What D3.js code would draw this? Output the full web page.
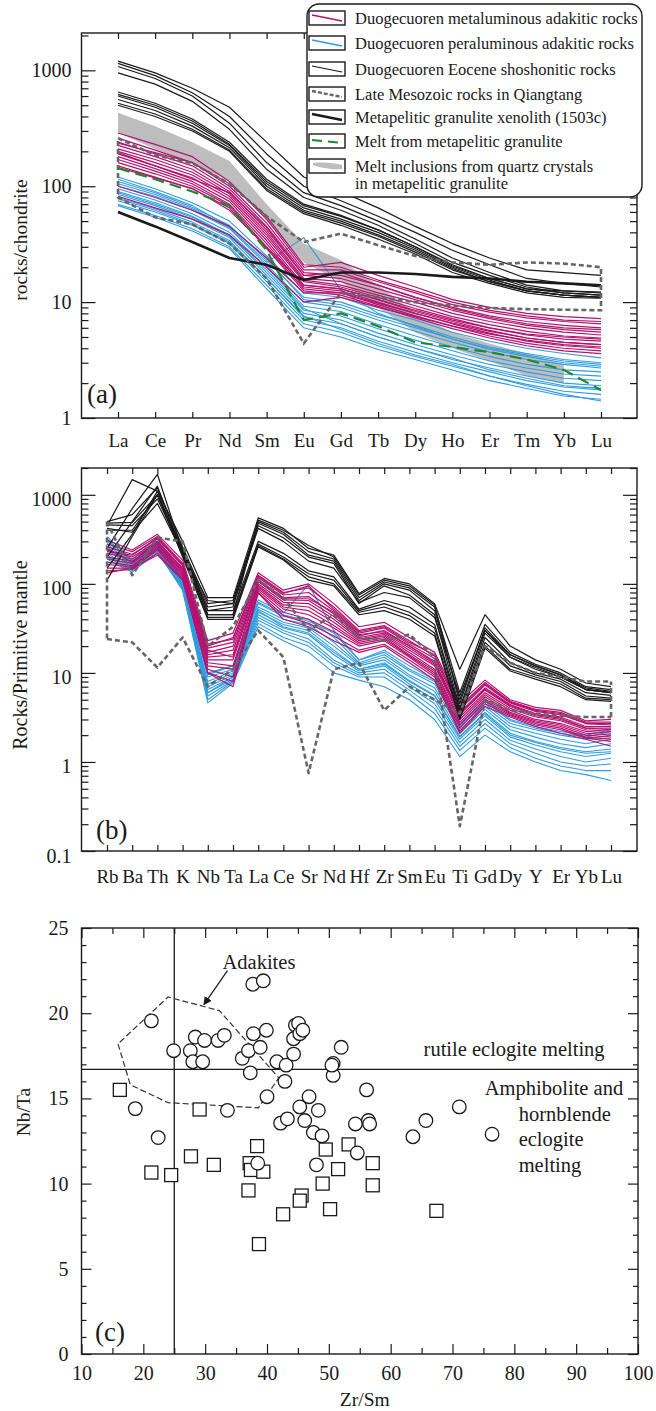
<!DOCTYPE html>
<html>
<head>
<meta charset="utf-8">
<script src="https://cdn.jsdelivr.net/npm/d3@7"></script>
<style>
  body { margin: 0; background: #fff; }
  svg { display: block; }
  text { font-family: "Liberation Serif", "DejaVu Serif", serif; }
</style>
</head>
<body>
<div id="main-chart"></div>
<script>
const width = 656;
const height = 1411;
const serif = "Liberation Serif, DejaVu Serif, serif";

// ---------- panel (a): chondrite-normalised REE ----------
const reeElements = ["La", "Ce", "Pr", "Nd", "Sm", "Eu", "Gd", "Tb", "Dy", "Ho", "Er", "Tm", "Yb", "Lu"];

const reeMetaluminous = [
  [288, 230, 180, 110, 52, 20, 22, 17, 13.5, 10.5, 9, 8, 7.5, 7.2],
  [260, 205, 160, 100, 48, 19, 19, 15, 12, 9.5, 8.2, 7.3, 6.8, 6.5],
  [240, 190, 150, 95, 45, 18, 17, 14, 11, 9, 7.6, 6.8, 6.3, 6],
  [235, 195, 160, 105, 55, 21, 20, 15.5, 12.5, 10, 8.5, 7.6, 7, 6.8],
  [225, 180, 140, 90, 42, 17, 16, 13, 10.5, 8.5, 7.2, 6.3, 5.8, 5.5],
  [210, 170, 132, 86, 40, 16, 15, 12, 10, 8, 6.8, 6, 5.5, 5.2],
  [200, 160, 125, 82, 38, 15.5, 14, 11.5, 9.3, 7.5, 6.4, 5.6, 5.1, 4.9],
  [195, 150, 115, 88, 44, 17, 18, 14, 11, 8.8, 7.4, 6.5, 6, 5.8],
  [190, 150, 118, 78, 36, 15, 13.5, 11, 8.8, 7.2, 6, 5.2, 4.8, 4.6],
  [180, 142, 110, 74, 34, 14, 13, 10.5, 8.3, 6.8, 5.7, 4.9, 4.5, 4.3],
  [170, 135, 105, 70, 32, 13.5, 12.5, 10, 8, 6.5, 5.4, 4.6, 4.2, 4],
  [160, 128, 100, 68, 30, 13, 12, 9.5, 7.6, 6.2, 5.1, 4.4, 4, 3.8],
  [150, 120, 95, 65, 29, 12.5, 11.5, 9.2, 7.3, 5.9, 4.9, 4.2, 3.8, 3.6],
  [145, 118, 96, 62, 30, 14, 13, 10.5, 8.5, 7, 6, 5.3, 5, 4.8],
  [100, 80, 62, 45, 24, 12, 12, 9.8, 8, 6.6, 5.6, 4.9, 4.5, 4.3],
  [82, 65, 52, 38, 20, 10, 11, 9, 7.5, 6.2, 5.3, 4.7, 4.3, 4.1],
];

const reePeraluminous = [
  [120, 95, 72, 50, 25, 12, 11, 8.5, 7, 5.5, 4.6, 4, 3.6, 3.3],
  [115, 90, 68, 45, 24, 10.5, 9.5, 7.4, 6, 4.8, 4, 3.5, 3.1, 2.9],
  [110, 88, 66, 46, 23, 11, 10, 7.8, 6.3, 5, 4.1, 3.6, 3.2, 3],
  [105, 85, 64, 44, 22, 36, 12.7, 8, 6.2, 4.8, 3.9, 3.4, 3, 2.8],
  [100, 82, 62, 43, 21, 10, 9, 7, 5.6, 4.5, 3.7, 3.2, 2.9, 2.7],
  [95, 76, 58, 40, 20, 9.2, 8.3, 6.4, 5.1, 4.1, 3.4, 2.9, 2.6, 2.5],
  [90, 72, 55, 38, 18, 8.5, 7.6, 5.9, 4.7, 3.8, 3.1, 2.7, 2.4, 2.3],
  [88, 70, 54, 37, 19, 8.8, 6.5, 5, 4, 3.3, 2.6, 2.2, 1.9, 1.8],
  [85, 68, 52, 36, 17, 8, 7, 5.4, 4.3, 3.5, 2.9, 2.5, 2.2, 2.1],
  [80, 64, 49, 34, 16, 7.4, 6.5, 5, 4, 3.2, 2.7, 2.3, 2, 1.9],
  [78, 62, 47, 33, 16, 7.6, 5.8, 4.4, 3.5, 2.9, 2.3, 1.9, 1.6, 1.4],
  [75, 60, 46, 32, 15, 7, 6, 4.6, 3.7, 3, 2.5, 2.1, 1.85, 1.75],
  [70, 56, 43, 30, 14, 6.5, 5.5, 4.2, 3.4, 2.8, 2.3, 1.95, 1.7, 1.6],
  [68, 54, 41, 29, 13, 6, 5, 3.9, 3.2, 2.6, 2.1, 1.8, 1.55, 1.45],
];

const reeShoshonitic = [
  [1200, 950, 700, 480, 240, 120, 90, 65, 45, 32, 24, 19, 18, 17],
  [1150, 900, 640, 400, 190, 100, 75, 55, 40, 28, 21, 16, 14.5, 13.5],
  [1080, 850, 600, 350, 160, 88, 68, 50, 35, 24, 18, 14, 12.5, 12],
  [950, 760, 540, 310, 140, 80, 62, 46, 32, 22, 17, 13.5, 12, 11.5],
  [650, 520, 380, 240, 115, 70, 56, 42, 30, 21, 16, 13, 12, 11.5],
  [620, 500, 365, 230, 110, 68, 55, 42, 30, 20.5, 16, 13, 12.5, 12.2],
  [600, 480, 350, 225, 105, 65, 52, 40, 29, 20, 15.5, 12.5, 11.5, 11],
  [560, 450, 330, 215, 100, 62, 50, 38, 28, 19.5, 15, 12.5, 11.5, 11],
  [520, 420, 310, 205, 95, 60, 48, 37, 27, 19, 15, 12.5, 11.5, 11],
  [500, 400, 300, 200, 92, 58, 46, 35, 26, 18, 14.5, 12, 11, 10.8],
];

const reeXenolith = [60, 45, 33, 24, 21, 15.5, 18, 18, 17.5, 16.5, 16, 15, 14.5, 14];
const reeMelt = [143, 115, 90, 68, 28, 7, 8, 6.2, 4.5, 4.1, 3.7, 3.2, 2.6, 1.74];
const reeMesozoicUpper = [260, 185, 158, 105, 55, 33, 39, 31, 25, 22, 21, 22, 21.5, 20];
const reeMesozoicLower = [80, 54, 47, 32, 16, 4.4, 12, 11, 10, 9.3, 8.9, 8.7, 8.6, 8.5];
// melt inclusions band, La..Yb
const reeInclusionUpper = [430, 330, 240, 165, 70, 32, 23, 14, 8, 5.5, 4.4, 3.6, 2.9];
const reeInclusionLower = [290, 210, 155, 112, 50, 22, 15, 9, 5.5, 4, 3.1, 2.3, 2];

// ---------- panel (b): primitive-mantle normalised spider ----------
const pmElements = ["Rb", "Ba", "Th", "K", "Nb", "Ta", "La", "Ce", "Sr", "Nd", "Hf", "Zr", "Sm", "Eu", "Ti", "Gd", "Dy", "Y", "Er", "Yb", "Lu"];

const pmMetaluminous = [
  [310, 240, 360, 185, 23, 28, 133, 85, 100, 60, 33, 37, 25, 17, 4.6, 8.3, 5, 4.1, 3.8, 2.9, 3],
  [280, 230, 340, 170, 21, 24, 125, 80, 90, 55, 30, 34, 23, 15.5, 4.2, 7.8, 4.8, 3.9, 3.6, 2.8, 2.8],
  [230, 210, 330, 165, 20, 25, 122, 78, 95, 52, 29, 33, 22, 16, 4, 7.5, 4.7, 3.8, 3.5, 2.7, 2.7],
  [260, 215, 320, 160, 19, 22, 118, 75, 80, 50, 28, 32, 21, 14.5, 3.9, 7.3, 4.6, 3.7, 3.4, 2.7, 2.6],
  [240, 200, 300, 150, 17, 20, 112, 70, 72, 46, 26, 30, 20, 13.5, 3.6, 6.8, 4.4, 3.5, 3.2, 2.5, 2.5],
  [250, 175, 300, 150, 18, 15, 108, 68, 68, 48, 27, 29, 20, 13, 3.5, 6.6, 4.3, 3.4, 3.1, 2.4, 2.4],
  [220, 190, 290, 145, 16, 18, 106, 66, 65, 43, 25, 28, 19, 12.5, 3.4, 6.4, 4.2, 3.3, 3, 2.4, 2.3],
  [200, 180, 280, 140, 15, 16, 100, 62, 60, 40, 24, 27, 18, 12, 3.2, 6, 4, 3.2, 2.9, 2.3, 2.2],
  [190, 170, 270, 135, 14, 14, 96, 58, 55, 37, 23, 26, 17, 11, 3, 5.7, 3.8, 3, 2.7, 2.2, 2.1],
  [175, 160, 260, 130, 13, 12, 92, 55, 50, 34, 22, 25, 16, 10.5, 2.8, 5.4, 3.6, 2.9, 2.6, 2.1, 2],
  [165, 155, 250, 125, 12, 11, 88, 52, 45, 32, 21, 24, 15.5, 10, 2.6, 5.1, 3.5, 2.8, 2.5, 2, 1.9],
  [150, 150, 240, 120, 11, 9, 84, 48, 40, 29, 20, 23, 15, 9.5, 2.4, 4.8, 3.4, 2.7, 2.4, 1.9, 1.8],
  [140, 145, 220, 115, 10, 8, 80, 44, 36, 26, 18, 21, 14, 9, 2.2, 4.5, 3.3, 2.6, 2.3, 1.85, 1.7],
  [133, 150, 210, 110, 10, 7, 79, 40, 33, 23, 17, 20, 13, 8.3, 2.1, 4.2, 3.2, 2.5, 2.1, 1.8, 1.5],
];

const pmPeraluminous = [
  [340, 185, 340, 110, 10, 12, 66, 47, 98, 30, 14, 18, 12, 8.3, 2.7, 5, 3, 2.5, 2.2, 2, 2.3],
  [320, 175, 320, 105, 9, 11, 60, 43, 40, 25, 13, 16, 10.5, 7.5, 2.5, 4.5, 2.7, 2.3, 2, 1.8, 2],
  [310, 180, 230, 108, 9.5, 12, 62, 45, 38, 28, 14, 17, 11, 8, 2.6, 4.8, 2.9, 2.4, 2.1, 1.9, 2.2],
  [300, 170, 300, 100, 8, 10.5, 55, 40, 35, 22, 12.5, 15, 9.5, 6.8, 2.3, 4.2, 2.5, 2.1, 1.8, 1.6, 1.8],
  [280, 165, 290, 98, 7.5, 10, 52, 37, 32, 20, 12, 14, 9, 6.2, 2.1, 3.9, 2.3, 1.9, 1.6, 1.45, 1.6],
  [260, 160, 280, 95, 7, 9.5, 48, 35, 30, 18, 11, 13, 8.2, 5.6, 1.95, 3.6, 2.1, 1.7, 1.45, 1.3, 1.4],
  [250, 150, 220, 92, 6, 9, 50, 33, 28, 17, 11, 12.5, 8, 5.5, 1.9, 3.5, 2, 1.65, 1.4, 1.25, 1.3],
  [240, 155, 270, 93, 6.5, 9, 45, 32, 27, 16, 10.5, 12, 7.5, 5, 1.8, 3.3, 1.9, 1.55, 1.3, 1.15, 1.25],
  [220, 150, 260, 90, 6, 8.5, 42, 30, 24, 14, 10, 11, 7, 4.5, 1.65, 3, 1.75, 1.4, 1.15, 1, 1.1],
  [210, 145, 250, 88, 5.5, 8.2, 39, 28, 22, 13, 9.5, 10, 6.4, 4, 1.5, 2.7, 1.6, 1.25, 1, 0.9, 0.95],
  [200, 140, 240, 86, 5, 8, 36, 25, 20, 12, 9, 9, 5.8, 3.5, 1.35, 2.4, 1.45, 1.1, 0.9, 0.8, 0.8],
  [190, 135, 230, 85, 4.6, 7.7, 33, 23, 17, 10, 8.3, 7, 5, 3, 1.15, 2, 1.3, 1, 0.8, 0.72, 0.62],
];

const pmShoshonitic = [
  [450, 1480, 1100, 300, 70, 70, 550, 420, 250, 210, 78, 115, 100, 60, 11, 45, 20, 14, 11, 7.7, 7],
  [500, 600, 1200, 260, 60, 65, 500, 380, 230, 190, 70, 105, 90, 55, 6, 35, 17, 12.5, 10, 7, 6.5],
  [250, 700, 1700, 230, 45, 45, 520, 400, 270, 200, 75, 110, 95, 58, 4.5, 32, 16, 12, 9.5, 6.8, 6.2],
  [480, 490, 1000, 240, 55, 60, 480, 360, 210, 180, 65, 100, 85, 50, 5, 30, 16, 12, 9.5, 6.5, 6],
  [400, 400, 1000, 250, 50, 55, 450, 330, 200, 170, 60, 95, 75, 45, 4, 28, 15, 11, 9, 6.5, 6],
  [420, 380, 800, 220, 65, 60, 420, 300, 180, 150, 62, 80, 70, 42, 5.5, 30, 15, 11.5, 9, 6.5, 6],
  [460, 450, 900, 230, 50, 50, 300, 220, 140, 120, 52, 65, 55, 35, 3.8, 25, 13, 10, 8.5, 6, 5.6],
  [200, 500, 1250, 220, 45, 45, 280, 200, 130, 110, 50, 60, 48, 32, 3.5, 22, 12, 9.5, 8, 5.5, 5.2],
  [150, 360, 1100, 210, 42, 42, 270, 190, 120, 100, 48, 55, 44, 28, 3.2, 20, 11, 9, 7.5, 5.2, 5],
  [110, 340, 1000, 200, 40, 40, 260, 185, 110, 95, 45, 50, 40, 26, 3, 19, 10.5, 8.5, 7, 5, 4.8],
];

const pmMesozoicA = [500, 125, 330, 300, 20, 33, 110, 70, 30, 45, 25, 23, 27, 15, 0.19, 5, 3.8, 3.5, 3.3, 3.2, 3.2];
const pmMesozoicB = [24, 22, 11.5, 25, 7, 11, 30, 15, 0.75, 11, 13, 3.8, 7, 5, 3.5, 20, 13, 10, 9, 8, 8];

// ---------- panel (c): Nb/Ta vs Zr/Sm ----------
const circleZrSm = [21.3, 24.9, 18.7, 22.4, 27.6, 28.4, 28.0, 29.6, 29.9, 32.1, 33.1, 33.6, 36.0, 37.0, 37.3, 37.8, 37.7, 39.4, 38.9, 39.9, 40.0, 41.6, 42.9, 43.1, 44.3, 42.2, 43.3, 44.6, 45.1, 44.3, 45.3, 45.8, 45.3, 46.8, 46.1, 48.3, 47.5, 48.9, 48.0, 38.5, 50.7, 50.7, 52.0, 50.5, 54.3, 54.6, 56.1, 56.4, 56.6, 63.6, 65.7, 71.1, 76.4];
const circleNbTa = [19.55, 17.8, 14.4, 12.7, 17.8, 18.6, 17.15, 17.15, 18.4, 18.4, 18.7, 14.3, 17.35, 17.8, 16.5, 18.8, 21.7, 21.9, 18.0, 19.0, 15.1, 17.15, 16.0, 16.95, 17.6, 13.55, 13.8, 19.3, 19.4, 18.5, 18.8, 19.0, 14.5, 15.1, 13.7, 14.3, 13.0, 12.8, 11.1, 11.2, 17.05, 16.35, 18.0, 16.95, 13.5, 11.8, 15.5, 13.7, 13.5, 12.75, 13.7, 14.5, 12.9];
const squareZrSm = [16.2, 21.3, 24.5, 27.7, 29.1, 31.4, 37.2, 37.4, 38.4, 39.4, 37.0, 49.5, 53.2, 51.5, 49.0, 57.1, 57.1, 45.6, 45.3, 42.6, 50.2, 38.7, 67.4];
const squareNbTa = [15.5, 10.65, 10.5, 11.6, 14.35, 11.1, 11.2, 10.8, 12.2, 10.7, 9.6, 12.0, 12.3, 10.85, 10.0, 11.2, 9.9, 9.3, 9.0, 8.2, 8.5, 6.45, 8.4];
const adakiteZrSm = [15.9, 17.9, 24.0, 38.6, 41.9, 32.3, 24.0];
const adakiteNbTa = [18.2, 15.8, 14.75, 14.45, 16.2, 20.15, 20.95];

const legendItems = [
  "Duogecuoren metaluminous adakitic rocks",
  "Duogecuoren peraluminous adakitic rocks",
  "Duogecuoren Eocene shoshonitic rocks",
  "Late Mesozoic rocks in Qiangtang",
  "Metapelitic granulite xenolith (1503c)",
  "Melt from metapelitic granulite",
  "Melt inclusions from quartz crystals",
];

const magenta = "#b3126f";
const blue = "#2e9ce0";
const ink = "#1a1a1a";
const dashGrey = "#666";
const green = "#1b8a2c";

const svg = d3
  .select("#main-chart")
  .append("svg")
  .attr("width", width)
  .attr("height", height)
  .attr("font-family", serif);

const styleAxis = (g, size) => {
  g.attr("font-family", serif).attr("font-size", size).style("color", ink);
  g.select(".domain").remove();
  g.selectAll("line").attr("stroke-width", 1.2);
};

const drawFrame = (box) =>
  svg
    .append("rect")
    .attr("x", box.left)
    .attr("y", box.top)
    .attr("width", box.right - box.left)
    .attr("height", box.bottom - box.top)
    .attr("fill", "none")
    .attr("stroke", ink)
    .attr("stroke-width", 1.4);

const logTicks = (scale) => {
  const [lo, hi] = scale.domain();
  const out = [];
  for (let e = Math.floor(Math.log10(lo)); e <= Math.ceil(Math.log10(hi)); e++) {
    for (let k = 1; k <= 9; k++) {
      const v = k * Math.pow(10, e);
      if (v >= lo * 0.999 && v <= hi) out.push({ v, major: k === 1 });
    }
  }
  return out;
};

const drawLogPanel = (box, x, y, labelPad, labelDy) => {
  const ticks = logTicks(y);
  const majors = ticks.filter((d) => d.major).map((d) => d.v);
  const minors = ticks.filter((d) => !d.major).map((d) => d.v);

  const left = svg.append("g").attr("transform", `translate(${box.left},0)`);
  left
    .append("g")
    .call(d3.axisLeft(y).tickValues(majors).tickSize(-14).tickPadding(10).tickFormat(d3.format("~g")))
    .call((g) => styleAxis(g, 20))
    .selectAll("text")
    .attr("dy", labelDy);
  left
    .append("g")
    .call(d3.axisLeft(y).tickValues(minors).tickSize(-7).tickFormat(""))
    .call((g) => styleAxis(g, 20));

  const right = svg.append("g").attr("transform", `translate(${box.right},0)`);
  right.append("g").call(d3.axisRight(y).tickValues(majors).tickSize(-14).tickFormat("")).call((g) => styleAxis(g, 20));
  right.append("g").call(d3.axisRight(y).tickValues(minors).tickSize(-7).tickFormat("")).call((g) => styleAxis(g, 20));

  svg
    .append("g")
    .attr("transform", `translate(0,${box.top})`)
    .call(d3.axisTop(x).tickSize(-6).tickFormat(""))
    .call((g) => styleAxis(g, 19));
  svg
    .append("g")
    .attr("transform", `translate(0,${box.bottom})`)
    .call(d3.axisBottom(x).tickSize(-6).tickPadding(labelPad))
    .call((g) => styleAxis(g, 19));

  drawFrame(box);
};

const drawSeries = (g, x, y, elements, rows, color, widthPx, dash) => {
  const line = d3
    .line()
    .x((d, i) => x(elements[i]))
    .y((d) => y(d));
  g.append("g")
    .selectAll("path")
    .data(rows)
    .join("path")
    .attr("d", (d) => line(d))
    .attr("fill", "none")
    .attr("stroke", color)
    .attr("stroke-width", widthPx)
    .attr("stroke-linejoin", "round")
    .attr("stroke-dasharray", dash || null);
};

const drawEnvelope = (g, x, y, elements, upper, lower) => {
  const pts = upper
    .map((v, i) => [x(elements[i]), y(v)])
    .concat(lower.map((v, i) => [x(elements[i]), y(v)]).reverse());
  g.append("path")
    .attr("d", d3.line()(pts) + "Z")
    .attr("fill", "none")
    .attr("stroke", dashGrey)
    .attr("stroke-width", 2.6)
    .attr("stroke-dasharray", "5,3");
};

const addText = (parent, txt, x, y, size, anchor) =>
  parent
    .append("text")
    .attr("x", x)
    .attr("y", y)
    .attr("font-family", serif)
    .attr("font-size", size)
    .attr("text-anchor", anchor || "start")
    .attr("fill", ink)
    .text(txt);

const addVerticalTitle = (txt, x, y, size) =>
  svg
    .append("text")
    .attr("transform", `translate(${x},${y}) rotate(-90)`)
    .attr("font-family", serif)
    .attr("text-anchor", "middle")
    .attr("font-size", size)
    .attr("fill", ink)
    .text(txt);

// ================= panel (a) =================
const boxA = { left: 81.5, right: 637, top: 33, bottom: 418 };
const xA = d3.scalePoint().domain(reeElements).range([118, 601]);
const yA = d3.scaleLog().domain([1, 2100]).range([boxA.bottom, boxA.top]);

const gA = svg.append("g");
const inclusionArea = d3
  .area()
  .x((d, i) => xA(reeElements[i]))
  .y0((d, i) => yA(reeInclusionLower[i]))
  .y1((d) => yA(d));
gA.append("path").attr("d", inclusionArea(reeInclusionUpper)).attr("fill", "#bdbdbd");

drawSeries(gA, xA, yA, reeElements, reePeraluminous, blue, 1.1);
drawSeries(gA, xA, yA, reeElements, reeMetaluminous, magenta, 1.2);
drawSeries(gA, xA, yA, reeElements, reeShoshonitic, ink, 1.2);
drawSeries(gA, xA, yA, reeElements, [reeXenolith], ink, 2.6);
drawEnvelope(gA, xA, yA, reeElements, reeMesozoicUpper, reeMesozoicLower);
drawSeries(gA, xA, yA, reeElements, [reeMelt], green, 2.2, "12,6");

drawLogPanel(boxA, xA, yA, 16, "0.32em");

addVerticalTitle("rocks/chondrite", 27, 240, 19.5);
addText(svg, "(a)", 87, 403, 27);

// legend
const legend = svg.append("g").attr("transform", "translate(307,4)");
legend
  .append("rect")
  .attr("width", 335)
  .attr("height", 193)
  .attr("rx", 12)
  .attr("fill", "#fff")
  .attr("stroke", ink)
  .attr("stroke-width", 1.4);

const rowY = [14, 39, 65, 90, 113, 137, 162];
const swatch = legend
  .selectAll(".swatch")
  .data(legendItems)
  .join("g")
  .attr("class", "swatch")
  .attr("transform", (d, i) => `translate(2,${rowY[i] - 7})`);
swatch
  .append("rect")
  .attr("width", 36)
  .attr("height", 14)
  .attr("fill", "#fff")
  .attr("stroke", ink)
  .attr("stroke-width", 1.4);

const swatchStyles = [
  { color: magenta, w: 1.4 },
  { color: blue, w: 1.4 },
  { color: ink, w: 1.2 },
  { color: dashGrey, w: 2.4, dash: "4,2" },
  { color: ink, w: 2.8 },
  { color: green, w: 2, dash: "10,6" },
];
swatch
  .filter((d, i) => i < 6)
  .append("line")
  .attr("x1", 3)
  .attr("y1", (d, i) => (i === 5 ? 6 : 4))
  .attr("x2", 33)
  .attr("y2", (d, i) => (i === 5 ? 9 : 10))
  .attr("stroke", (d, i) => swatchStyles[i].color)
  .attr("stroke-width", (d, i) => swatchStyles[i].w)
  .attr("stroke-dasharray", (d, i) => swatchStyles[i].dash || null);
swatch
  .filter((d, i) => i === 6)
  .append("path")
  .attr("d", "M4,4 C14,3 26,4 33,6 L33,10 C24,11 12,9 4,6 Z")
  .attr("fill", "#bdbdbd");

legendItems.forEach((d, i) => addText(legend, d, 48, rowY[i] + 5.5, 16.5));
addText(legend, "in metapelitic granulite", 48, 184.5, 16.5);

// ================= panel (b) =================
const boxB = { left: 81.5, right: 637, top: 468, bottom: 851 };
const xB = d3.scalePoint().domain(pmElements).range([107, 611]);
const yB = d3.scaleLog().domain([0.1, 2000]).range([boxB.bottom, boxB.top]);

const gB = svg.append("g");
drawSeries(gB, xB, yB, pmElements, pmPeraluminous, blue, 1.1);
drawSeries(gB, xB, yB, pmElements, pmMetaluminous, magenta, 1.2);
drawSeries(gB, xB, yB, pmElements, pmShoshonitic, ink, 1.2);
drawSeries(gB, xB, yB, pmElements, [pmMesozoicA, pmMesozoicB], dashGrey, 2.6, "5,3");
// closing edges of the Late Mesozoic field at Rb and Lu
drawSeries(gB, xB, yB, ["Rb", "Rb"], [[pmMesozoicA[0], pmMesozoicB[0]]], dashGrey, 2.6, "5,3");
drawSeries(gB, xB, yB, ["Lu", "Lu"], [[pmMesozoicA[20], pmMesozoicB[20]]], dashGrey, 2.6, "5,3");

drawLogPanel(boxB, xB, yB, 19, "0.55em");

addVerticalTitle("Rocks/Primitive mantle", 27, 655, 20);
addText(svg, "(b)", 96, 839, 27);

// ================= panel (c) =================
const boxC = { left: 81.5, right: 638, top: 928, bottom: 1354 };
const xC = d3.scaleLinear().domain([10, 100]).range([boxC.left, boxC.right]);
const yC = d3.scaleLinear().domain([0, 25]).range([boxC.bottom, boxC.top]);

const xMajor = d3.range(10, 101, 10);
const xMinor = d3.range(15, 100, 10);
const yMajor = d3.range(0, 26, 5);
const yMinor = d3.range(0, 26, 1).filter((d) => d % 5 !== 0);

const axisPair = (axisFn, scale, values, pos, withLabels, padding) => {
  svg
    .append("g")
    .attr("transform", pos)
    .call(axisFn(scale).tickValues(values[0]).tickSize(-10).tickPadding(padding).tickFormat(withLabels ? d3.format("d") : ""))
    .call((g) => styleAxis(g, 20));
  svg
    .append("g")
    .attr("transform", pos)
    .call(axisFn(scale).tickValues(values[1]).tickSize(axisFn === d3.axisLeft || axisFn === d3.axisRight ? -5 : -6).tickFormat(""))
    .call((g) => styleAxis(g, 20));
};
axisPair(d3.axisBottom, xC, [xMajor, xMinor], `translate(0,${boxC.bottom})`, true, 12);
axisPair(d3.axisTop, xC, [xMajor, xMinor], `translate(0,${boxC.top})`, false, 0);
axisPair(d3.axisLeft, yC, [yMajor, yMinor], `translate(${boxC.left},0)`, true, 13);
axisPair(d3.axisRight, yC, [yMajor, yMinor], `translate(${boxC.right},0)`, false, 0);
drawFrame(boxC);

// reference lines
svg
  .append("line")
  .attr("x1", xC(25))
  .attr("x2", xC(25))
  .attr("y1", yC(0))
  .attr("y2", yC(25))
  .attr("stroke", ink)
  .attr("stroke-width", 1.3);
svg
  .append("line")
  .attr("x1", xC(10))
  .attr("x2", xC(100))
  .attr("y1", yC(16.7))
  .attr("y2", yC(16.7))
  .attr("stroke", ink)
  .attr("stroke-width", 1.3);

// adakite field
svg
  .append("path")
  .attr("d", d3.line()(adakiteZrSm.map((v, i) => [xC(v), yC(adakiteNbTa[i])])) + "Z")
  .attr("fill", "none")
  .attr("stroke", "#333")
  .attr("stroke-width", 1.2)
  .attr("stroke-dasharray", "6,3");

svg
  .append("defs")
  .append("marker")
  .attr("id", "arrow-head")
  .attr("viewBox", "0 0 10 10")
  .attr("refX", 9)
  .attr("refY", 5)
  .attr("markerWidth", 7)
  .attr("markerHeight", 7)
  .attr("orient", "auto")
  .append("path")
  .attr("d", "M0,0 L10,5 L0,10 Z")
  .attr("fill", ink);
svg
  .append("line")
  .attr("x1", xC(33.6))
  .attr("y1", yC(22.5))
  .attr("x2", xC(29.8))
  .attr("y2", yC(20.5))
  .attr("stroke", ink)
  .attr("stroke-width", 1.2)
  .attr("marker-end", "url(#arrow-head)");

// samples
const gC = svg.append("g");
gC.selectAll(".sq")
  .data(squareZrSm)
  .join("rect")
  .attr("class", "sq")
  .attr("x", (d) => xC(d) - 6.5)
  .attr("y", (d, i) => yC(squareNbTa[i]) - 6.5)
  .attr("width", 13)
  .attr("height", 13)
  .attr("fill", "#fff")
  .attr("stroke", ink)
  .attr("stroke-width", 1.3);
gC.selectAll(".ci")
  .data(circleZrSm)
  .join("circle")
  .attr("class", "ci")
  .attr("cx", (d) => xC(d))
  .attr("cy", (d, i) => yC(circleNbTa[i]))
  .attr("r", 6.8)
  .attr("fill", "#fff")
  .attr("stroke", ink)
  .attr("stroke-width", 1.3);

addText(svg, "Adakites", xC(38.7), yC(22.6), 20.5, "middle");
addText(svg, "rutile eclogite melting", xC(94.6), yC(17.5), 20.5, "end");
addText(svg, "Amphibolite and", xC(97.6), yC(15.2), 20.5, "end");
addText(svg, "hornblende", xC(80.7), yC(13.7), 20.5);
addText(svg, "eclogite", xC(80.7), yC(12.2), 20.5);
addText(svg, "melting", xC(80.7), yC(10.7), 20.5);

addVerticalTitle("Nb/Ta", 30, 1112, 19.5);
addText(svg, "Zr/Sm", (boxC.left + boxC.right) / 2 + 5, 1406, 19.5, "middle");
addText(svg, "(c)", 95, 1341, 27);
</script>
</body>
</html>
